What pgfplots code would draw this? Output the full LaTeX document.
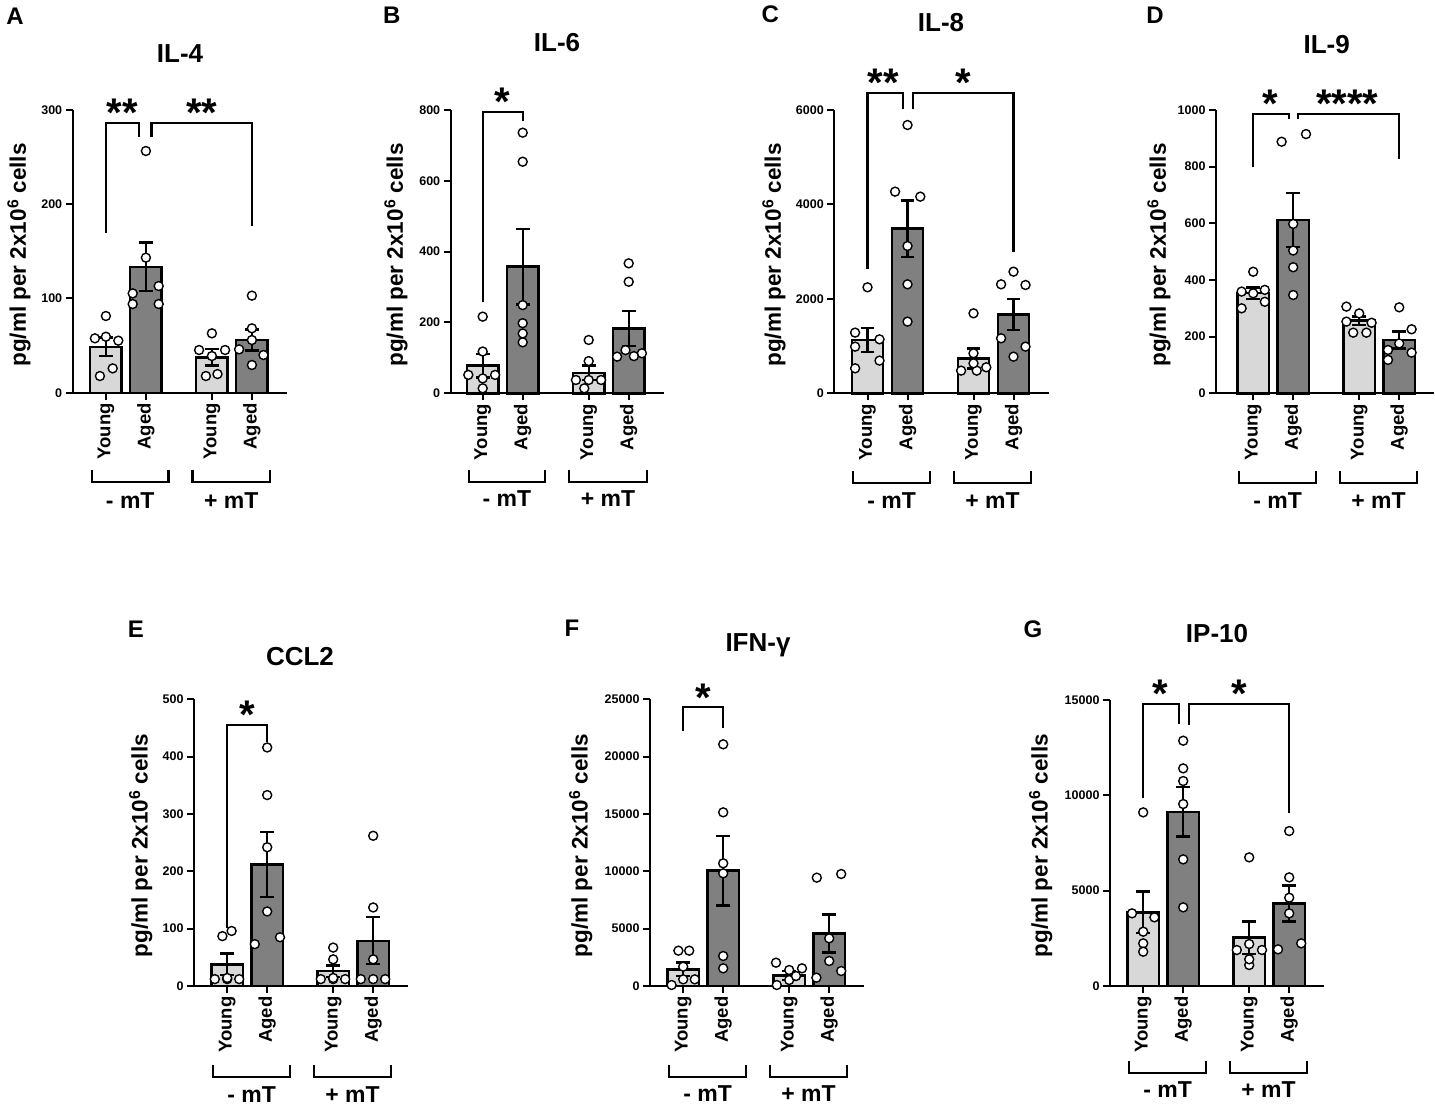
\documentclass[border=0pt]{standalone}
\usepackage{pgfplots}
\pgfplotsset{compat=1.18}
\usepackage{fontspec}
\setmainfont{Liberation Sans}
\definecolor{lightbar}{RGB}{216,216,216}
\definecolor{darkbar}{RGB}{128,128,128}
\newcommand{\fs}[1]{\fontsize{#1}{#1}\selectfont\bfseries}
\pgfplotsset{
  panel/.style={
    scale only axis, anchor=south west,
    axis lines*=left,
    axis line style={line width=2.2pt, black},
    xmin=-0.83, xmax=4.53, ymin=0, width=214.4pt,
    xtick={0,1,2.65,3.65},
    xticklabels={Young,Aged,Young,Aged},
    scaled y ticks=false,
    tick align=outside, major tick length=7pt,
    tick style={line width=2pt, black},
    xticklabel style={rotate=90, anchor=east, font=\fs{18.5}},
    yticklabel style={font=\fs{12.5}},
    clip=false,
  },
  barY/.style={ybar, bar width=31.5pt, bar shift=0pt, fill=lightbar, draw=black, line width=2.4pt},
  barA/.style={ybar, bar width=31.5pt, bar shift=0pt, fill=darkbar, draw=black, line width=2.4pt},
  pts/.style={only marks, mark=*, mark size=4.5pt, mark options={fill=white, draw=black, line width=1.4pt}},
  errs/.style={draw=none, mark=none, error bars/.cd, y dir=both, y explicit,
     error bar style={draw=black, line width=2.4pt},
     error mark options={rotate=90, mark size=6.8pt, line width=2.4pt, black}},
}
\tikzset{sig/.style={line width=2.1pt, black},
  star/.style={anchor=base, yshift=-3.7pt, font=\fs{40}, inner sep=0pt}}
\newcommand{\grp}[3]{%
  \draw[line width=2.1pt] ({#1-14},{#2-12}) -- ({#1-14},#2) -- ({#1+62.5},#2) -- ({#1+62.5},{#2-12});
  \draw[line width=2.1pt] ({#1+86.5},{#2-12}) -- ({#1+86.5},#2) -- ({#1+164},#2) -- ({#1+164},{#2-12});
  \node[anchor=base, font=\fs{23}, inner sep=0pt] at ({#1+24.25},{#3+8.2}) {- mT};
  \node[anchor=base, font=\fs{23}, inner sep=0pt] at ({#1+125.25},{#3+8.2}) {+ mT};
}
\newcommand{\ylab}[2]{\node[rotate=90, anchor=center, font=\fs{22.5}, inner sep=0pt] at (#1,#2) {pg/ml per 2x10\textsuperscript{6} cells};}
\begin{document}
\begin{tikzpicture}
\path[use as bounding box] (0,0) rectangle (1435pt,-1105pt);
% ---------------- A: IL-4
\begin{axis}[panel, at={(72.7pt,-392.7pt)}, height=282.7pt, ymax=300,
  ytick={0,100,200,300}, yticklabels={0,100,200,300}]
\addplot[barY] coordinates {(0,48.8) (2.65,37.5)};
\addplot[barA] coordinates {(1,133.7) (3.65,55.9)};
\addplot[pts] coordinates {(0,81.4) (-0.275,57.7) (0,59.4) (0.31,55.2) (0.17,25.8) (-0.15,17.7)
 (1,256.5) (1,143.3) (0.67,105.4) (1.32,113.2) (0.67,94.1) (1.32,94.1)
 (2.65,63) (2.33,45.3) (2.98,45.3) (2.5,17.7) (2.79,19.8) (2.65,38.9)
 (3.65,103) (3.65,68.3) (3.65,55.9) (3.33,46) (3.94,40) (3.65,29.4)};
\addplot[errs] coordinates {(0,48.8) +- (0,9.9) (1,133.7) +- (0,25.6) (2.65,37.5) +- (0,8.7) (3.65,55.9) +- (0,11)};
\draw[sig] (axis cs:0,169.5) |- (axis cs:0.83,286.5) -- (axis cs:0.83,271);
\draw[sig] (axis cs:1.14,271) |- (axis cs:3.65,286.5) -- (axis cs:3.65,176.9);
\node[star] at (axis cs:0.41,286.5) {**};
\node[star] at (axis cs:2.4,286.5) {**};
\end{axis}
% ---------------- B: IL-6
\begin{axis}[panel, at={(450.7pt,-393.3pt)}, height=283.3pt, ymax=800, xmin=-0.8, width=213.2pt,
  ytick={0,200,400,600,800}, yticklabels={0,200,400,600,800}]
\addplot[barY] coordinates {(0,78) (2.65,58)};
\addplot[barA] coordinates {(1,357.6) (3.65,183.5)};
\addplot[pts] coordinates {(0,216.5) (0,118) (-0.36,52) (0.31,52) (0,42) (0,14)
 (1,736) (1,654) (1,249) (1,198) (1,169) (1,144)
 (2.65,150.6) (2.65,91) (2.33,37.6) (2.65,37.6) (2.96,37.6) (2.54,14)
 (3.65,367) (3.65,315) (3.36,103.5) (3.57,122) (3.78,105) (3.98,113)};
\addplot[errs] coordinates {(0,78) +- (0,33) (1,357.6) +- (0,107) (2.65,58) +- (0,20) (3.65,183.5) +- (0,49.5)};
\draw[sig] (axis cs:0,259) |- (axis cs:1,795) -- (axis cs:1,770);
\node[star] at (axis cs:0.5,795) {*};
\end{axis}
% ---------------- C: IL-8
\begin{axis}[panel, at={(834.3pt,-393.3pt)}, height=283.3pt, ymax=6000,
  ytick={0,2000,4000,6000}, yticklabels={0,2000,4000,6000}]
\addplot[barY] coordinates {(0,1129) (2.65,741)};
\addplot[barA] coordinates {(1,3487) (3.65,1673)};
\addplot[pts] coordinates {(0,2245) (-0.31,1285) (0.3,1143) (-0.31,988) (0.3,692) (-0.31,529)
 (1,5682) (0.69,4271) (1.32,4165) (1,3120) (1,2308) (1,1518)
 (2.65,1694) (2.65,847) (2.34,480) (2.97,551) (2.73,480) (2.65,635)
 (3.65,2576) (3.34,2308) (3.95,2294) (3.34,1165) (3.95,988) (3.65,776)};
\addplot[errs] coordinates {(0,1129) +- (0,248) (1,3487) +- (0,600) (2.65,741) +- (0,212) (3.65,1673) +- (0,328)};
\draw[sig] (axis cs:0,2626) |- (axis cs:0.88,6367) -- (axis cs:0.88,6014);
\draw[sig] (axis cs:1.13,6014) |- (axis cs:3.65,6367) -- (axis cs:3.65,3000);
\node[star] at (axis cs:0.4,6367) {**};
\node[star] at (axis cs:2.4,6367) {*};
\end{axis}
% ---------------- D: IL-9
\begin{axis}[panel, at={(1216pt,-393.3pt)}, height=283.3pt, ymax=1000, xmin=-0.93, width=218.4pt,
  ytick={0,200,400,600,800,1000}, yticklabels={0,200,400,600,800,1000}]
\addplot[barY] coordinates {(0,353) (2.65,256.5)};
\addplot[barA] coordinates {(1,612) (3.65,188)};
\addplot[pts] coordinates {(0,429) (-0.29,359) (0.29,365) (0,353) (-0.29,300) (0.29,323)
 (0.71,888) (1.32,915) (1,598) (1,504) (1,445) (1,347)
 (2.33,306) (2.65,282) (2.33,253) (2.96,249) (2.5,214) (2.83,214)
 (3.65,303.5) (3.96,226) (3.96,143.5) (3.37,153) (3.37,118) (3.65,176)};
\addplot[errs] coordinates {(0,353) +- (0,21) (1,612) +- (0,96) (2.65,256.5) +- (0,14.5) (3.65,188) +- (0,30)};
\draw[sig] (axis cs:0,798) |- (axis cs:0.9,986) -- (axis cs:0.9,967);
\draw[sig] (axis cs:1.13,967) |- (axis cs:3.65,986) -- (axis cs:3.65,826);
\node[star] at (axis cs:0.42,986) {*};
\node[star] at (axis cs:2.35,986) {****};
\end{axis}
% ---------------- E: CCL2
\begin{axis}[panel, at={(194pt,-986pt)}, height=286.7pt, ymax=500,
  ytick={0,100,200,300,400,500}, yticklabels={0,100,200,300,400,500}]
\addplot[barY] coordinates {(0,37.8) (2.65,26)};
\addplot[barA] coordinates {(1,212) (3.65,79)};
\addplot[pts] coordinates {(-0.12,87) (0.11,96) (-0.31,12) (0,12) (0.3,12) (0,14)
 (1,416) (1,333) (1,242) (1,130) (0.69,73) (1.32,85)
 (2.65,67) (2.65,46.5) (2.34,12) (2.65,12) (2.95,12) (2.65,14)
 (3.65,262) (3.65,137) (3.65,46.5) (3.34,12) (3.65,12) (3.95,12)};
\addplot[errs] coordinates {(0,37.8) +- (0,19) (1,212) +- (0,57) (2.65,26) +- (0,10) (3.65,79) +- (0,41)};
\draw[sig] (axis cs:0,100.6) |- (axis cs:1,455) -- (axis cs:1,426);
\node[star] at (axis cs:0.49,455) {*};
\end{axis}
% ---------------- F: IFN-gamma
\begin{axis}[panel, at={(650pt,-986pt)}, height=286.7pt, ymax=25000,
  ytick={0,5000,10000,15000,20000,25000}, yticklabels={0,5000,10000,15000,20000,25000}]
\addplot[barY] coordinates {(0,1453) (2.65,901)};
\addplot[barA] coordinates {(1,10058) (3.65,4593)};
\addplot[pts] coordinates {(-0.12,3081) (0.15,3081) (-0.29,87) (0,581) (0.29,581) (0,1686)
 (1,21076) (1,15145) (1,10698) (1,9826) (1,2616) (1,1541)
 (2.32,2035) (2.65,1395) (2.97,1541) (2.34,87) (2.65,523) (2.82,872)
 (3.34,9448) (3.95,9767) (3.65,4157) (3.65,2180) (3.33,727) (3.95,1308)};
\addplot[errs] coordinates {(0,1453) +- (0,580) (1,10058) +- (0,3040) (2.65,901) +- (0,390) (3.65,4593) +- (0,1657)};
\draw[sig] (axis cs:0,22239) |- (axis cs:1,24302) -- (axis cs:1,22471);
\node[star] at (axis cs:0.5,24302) {*};
\end{axis}
% ---------------- G: IP-10
\begin{axis}[panel, at={(1110pt,-986pt)}, height=286pt, ymax=15000,
  ytick={0,5000,10000,15000}, yticklabels={0,5000,10000,15000}]
\addplot[barY] coordinates {(0,3863) (2.65,2535)};
\addplot[barA] coordinates {(1,9142) (3.65,4335)};
\addplot[pts] coordinates {(0,9107) (-0.28,3811) (0.28,3601) (0,2849) (0,2237) (0,1800)
 (1,12865) (1,11414) (1,10750) (1,9544) (1,6642) (1,4125)
 (2.65,6747) (2.65,2202) (2.34,1888) (2.97,1888) (2.65,1101) (2.65,1400)
 (3.65,8128) (3.65,5698) (3.65,4632) (3.65,3811) (3.37,1923) (3.95,2237)};
\addplot[errs] coordinates {(0,3863) +- (0,1093) (1,9142) +- (0,1310) (2.65,2535) +- (0,848) (3.65,4335) +- (0,944)};
\draw[sig] (axis cs:0,9841) |- (axis cs:0.9,14788) -- (axis cs:0.9,13739);
\draw[sig] (axis cs:1.15,13687) |- (axis cs:3.65,14788) -- (axis cs:3.65,9055);
\node[star] at (axis cs:0.435,14788) {*};
\node[star] at (axis cs:2.4,14788) {*};
\end{axis}
% ---------------- annotations in pixel coordinates
\begin{scope}[x=1pt, y=-1pt]
\node[anchor=base, font=\fs{26}, inner sep=0pt] at (180,62.3) {IL-4};
\node[anchor=base, font=\fs{26}, inner sep=0pt] at (557,51.5) {IL-6};
\node[anchor=base, font=\fs{26}, inner sep=0pt] at (941,31.5) {IL-8};
\node[anchor=base, font=\fs{26}, inner sep=0pt] at (1326.7,54) {IL-9};
\node[anchor=base, font=\fs{26}, inner sep=0pt] at (300,665) {CCL2};
\node[anchor=base, font=\fs{26}, inner sep=0pt] at (758,651) {IFN-γ};
\node[anchor=base, font=\fs{26}, inner sep=0pt] at (1217,642.6) {IP-10};
\node[anchor=base, font=\fs{24}, inner sep=0pt] at (15,24.6) {A};
\node[anchor=base, font=\fs{24}, inner sep=0pt] at (391.7,23.9) {B};
\node[anchor=base, font=\fs{24}, inner sep=0pt] at (770.3,22.4) {C};
\node[anchor=base, font=\fs{24}, inner sep=0pt] at (1155,23.9) {D};
\node[anchor=base, font=\fs{24}, inner sep=0pt] at (135.8,637.3) {E};
\node[anchor=base, font=\fs{24}, inner sep=0pt] at (572,636.1) {F};
\node[anchor=base, font=\fs{24}, inner sep=0pt] at (1033,637.3) {G};
\ylab{19}{255}
\ylab{396}{255}
\ylab{774}{255}
\ylab{1159}{255}
\ylab{140.7}{845.7}
\ylab{580.7}{845.7}
\ylab{1040.7}{845.7}
\grp{106}{481.7}{500}
\grp{482.7}{481.7}{498}
\grp{867.3}{482.7}{500}
\grp{1253.3}{482.7}{500}
\grp{227.3}{1077.3}{1094.5}
\grp{683.3}{1076.7}{1093}
\grp{1143.3}{1072.7}{1089}
\end{scope}
\end{tikzpicture}
\end{document}
